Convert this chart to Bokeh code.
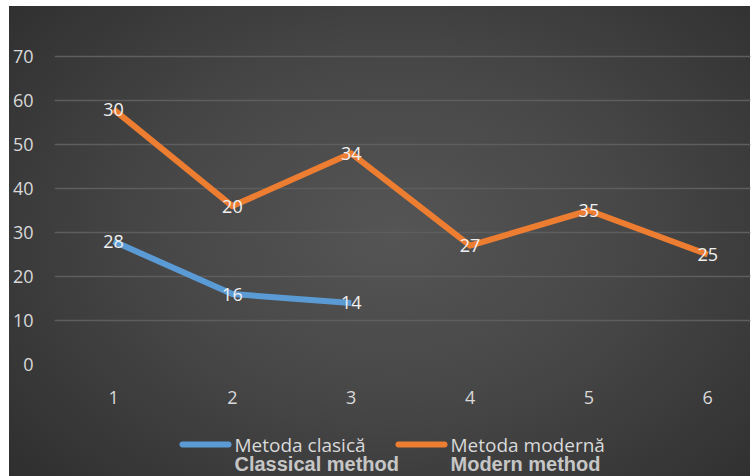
from bokeh.plotting import figure
from bokeh.layouts import column
from bokeh.models import ColumnDataSource, Label, FixedTicker, Range1d
from bokeh.core.properties import value
from bokeh.embed import file_html
from bokeh.resources import INLINE

# Data
categories = [1, 2, 3, 4, 5, 6]
classic = [28, 16, 14]             # Metoda clasică (sessions 1-3)
modern = [30, 20, 34, 27, 35, 25]  # Metoda modernă
y_ticks = [0, 10, 20, 30, 40, 50, 60, 70]
series_ro = ["Metoda clasică", "Metoda modernă"]
series_en = ["Classical method", "Modern method"]

# Stacked line: the modern series sits on top of the classic one
classic_full = classic + [0] * (len(categories) - len(classic))
modern_stacked = [c + m for c, m in zip(classic_full, modern)]

BLUE = "#5B9BD5"
ORANGE = "#ED7D31"
TXT = "#d9d9d9"
FONT = "Open Sans"

# ---- main chart ----
p = figure(width=753, height=425, output_backend="svg", toolbar_location=None,
           x_range=Range1d(0.503, 6.36), y_range=Range1d(0, 80),
           min_border_left=54, min_border_right=3, min_border_top=12,
           min_border_bottom=61)
p.border_fill_color = None
p.background_fill_color = None
p.outline_line_color = None

p.xaxis.ticker = FixedTicker(ticks=categories)
p.yaxis.ticker = FixedTicker(ticks=y_ticks)
for ax in (p.xaxis[0], p.yaxis[0]):
    ax.axis_line_color = None
    ax.major_tick_line_color = None
    ax.minor_tick_line_color = None
    ax.major_label_text_color = TXT
    ax.major_label_text_font = FONT
    ax.major_label_text_font_size = "18px"
p.xaxis.major_label_standoff = 20
p.yaxis.major_label_standoff = 15
p.xgrid.grid_line_color = None
p.ygrid.grid_line_color = "#5e5e5e"
p.ygrid.grid_line_width = 1.5

src_c = ColumnDataSource(dict(x=categories[:len(classic)], y=classic,
                              lab=[str(v) for v in classic]))
src_m = ColumnDataSource(dict(x=categories, y=modern_stacked,
                              lab=[str(v) for v in modern]))

p.line("x", "y", source=src_c, line_color=BLUE, line_width=6, line_join="round")
p.line("x", "y", source=src_m, line_color=ORANGE, line_width=6, line_join="round")

for src in (src_c, src_m):
    p.text("x", "y", text="lab", source=src, text_color="#f0f0f0",
           text_font=value(FONT), text_font_size="18px",
           text_align="center", text_baseline="middle")

# ---- legend strip; its frame lines up with the chart frame above,
# so the x range is given in page pixels (54..750), y grows downward ----
lg = figure(width=753, height=51, output_backend="svg", toolbar_location=None,
            x_range=Range1d(54, 750), y_range=Range1d(51, 0),
            x_axis_location=None, y_axis_location=None,
            min_border_left=54, min_border_right=3, min_border_top=0,
            min_border_bottom=0)
lg.border_fill_color = None
lg.background_fill_color = None
lg.outline_line_color = None
lg.grid.visible = False

swatch_x = [182, 398]
for x0, col, ro, en in zip(swatch_x, [BLUE, ORANGE], series_ro, series_en):
    lg.segment(x0=x0, y0=19, x1=x0 + 46, y1=19, line_color=col,
               line_width=6, line_cap="round")
    lg.add_layout(Label(x=x0 + 52, y=19, text=ro, text_color=TXT,
                        text_font=FONT, text_font_size="19px",
                        text_baseline="middle"))
    lg.add_layout(Label(x=x0 + 52, y=38, text=en, text_color="#c6c6c6",
                        text_font="Liberation Sans", text_font_style="bold",
                        text_font_size="20px", text_baseline="middle"))

layout = column(p, lg, spacing=0)
layout.styles = {
    "background": "radial-gradient(ellipse 70% 80% at 52% 48%, #555555 0%, #474747 45%, #2e2e2e 100%) 9px 6px / 741px 470px no-repeat, #ffffff"
}

open("out.html", "w").write(file_html(layout, INLINE))
